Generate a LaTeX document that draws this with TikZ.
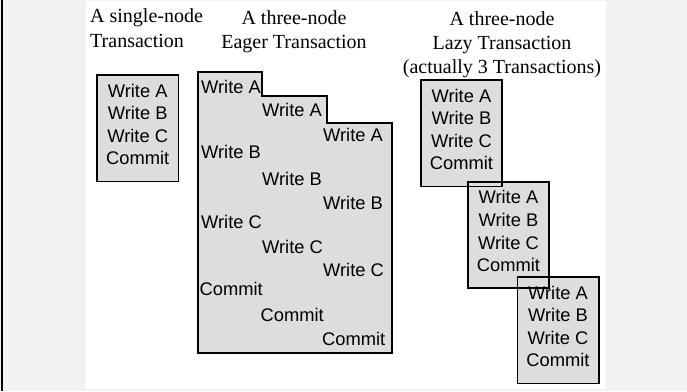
\documentclass[tikz,border=0pt]{standalone}
\usepackage{fontspec}
\setmainfont{Liberation Serif}
\newfontfamily\arialf{Liberation Sans}
\definecolor{pagebg}{HTML}{F2F2F2}
\definecolor{boxfill}{HTML}{DDDDDD}
\begin{document}
\begin{tikzpicture}[x=1pt,y=-1pt,
  titletxt/.style={font=\fontsize{20}{24}\selectfont, anchor=base, inner sep=0pt},
  optxt/.style={font=\arialf\fontsize{18.3}{20}\selectfont, anchor=base, inner sep=0pt},
  opw/.style={optxt, anchor=base west},
  boxfillst/.style={fill=boxfill, draw=none, minimum width=81pt, minimum height=106pt, inner sep=0pt, anchor=north west},
  boxline/.style={draw=black, line width=1.6pt}]
\useasboundingbox (0,0) rectangle (687,391);
\fill[pagebg] (0,0) rectangle (687,391);
\fill[white] (86,1) rectangle (606,389);
\draw[black, line width=2.5pt] (2,0) -- (2,391);

% titles
\node[titletxt, anchor=base west] (t1a) at (90,22) {A single-node};
\node[titletxt, anchor=base west] (t1b) at (90,47) {Transaction};
\node[titletxt] (t2a) at (294,24) {A three-node};
\node[titletxt] (t2b) at (294,48) {Eager Transaction};
\node[titletxt] (t3a) at (502,25) {A three-node};
\node[titletxt] (t3b) at (502,49) {Lazy Transaction};
\node[titletxt] (t3c) at (502,73) {(actually 3 Transactions)};

% eager polygon fill
\fill[boxfill] (198,72) -- (262,72) -- (262,96) -- (327,96) -- (327,123) -- (392,123) -- (392,353) -- (198,353) -- cycle;

% box fills
\foreach \n/\x/\y in {s/97/75, l1/420.7/80, l2/467.7/181.7, l3/517.3/277} {
  \node[boxfillst] (\n) at (\x,\y) {};
}

% box texts
\foreach \n in {s, l1, l2, l3} {
  \node[optxt] (\n-a) at ([yshift=-22pt]\n.north) {Write A};
  \node[optxt] (\n-b) at ([yshift=-44.5pt]\n.north) {Write B};
  \node[optxt] (\n-c) at ([yshift=-67.3pt]\n.north) {Write C};
  \node[optxt] (\n-d) at ([yshift=-89.7pt]\n.north) {Commit};
}

% eager texts
\node[opw] (ea1) at (201,93.3) {Write A};
\node[opw] (ea2) at (262,116.7) {Write A};
\node[opw] (ea3) at (323,141.7) {Write A};
\node[opw] (eb1) at (201,158.3) {Write B};
\node[opw] (eb2) at (262,185) {Write B};
\node[opw] (eb3) at (323,209) {Write B};
\node[opw] (ec1) at (201,228.3) {Write C};
\node[opw] (ec2) at (262,253.3) {Write C};
\node[opw] (ec3) at (323,276.7) {Write C};
\node[opw] (ed1) at (199.5,295) {Commit};
\node[opw] (ed2) at (260.5,321.7) {Commit};
\node[opw] (ed3) at (322,345.7) {Commit};

% borders
\draw[boxline] (198,72) -- (262,72) -- (262,96) -- (327,96) -- (327,123) -- (392,123) -- (392,353) -- (198,353) -- cycle;
\foreach \n in {s, l1, l2, l3} {
  \draw[boxline] (\n.north west) rectangle (\n.south east);
}
\end{tikzpicture}
\end{document}
